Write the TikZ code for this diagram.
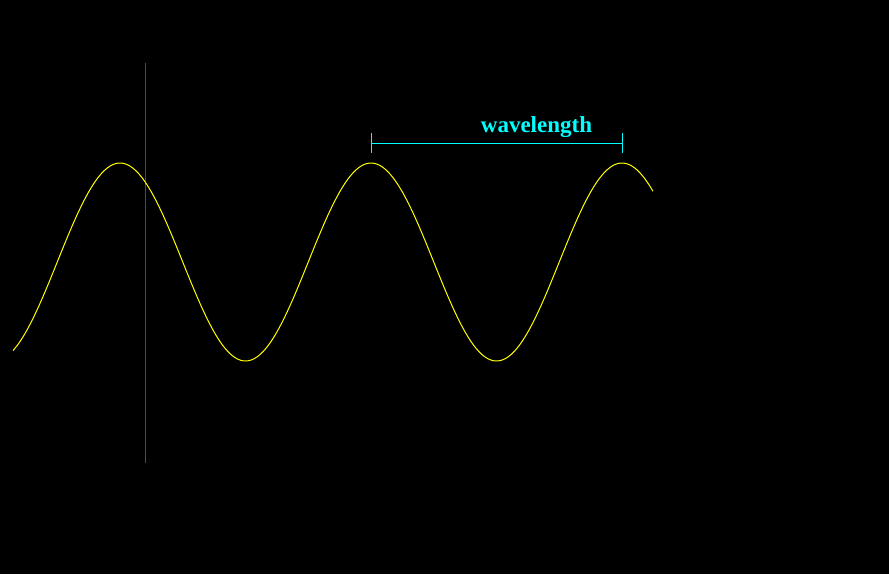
\documentclass[tikz,border=0pt]{standalone}
\usepackage{fontspec}
\setmainfont{Liberation Serif}
\usetikzlibrary{positioning}
\definecolor{wavecol}{RGB}{255,255,0}
\definecolor{markcol}{RGB}{255,0,0}
\definecolor{spancol}{RGB}{0,255,255}

\begin{document}
\begin{tikzpicture}[x=1pt,y=-1pt,line width=1pt]
	\tikzset{
		wave/.style={wavecol},
		marker/.style={markcol},
		span/.style={spancol},
		spantext/.style={text=spancol,font=\bfseries\fontsize{23}{23}\selectfont,inner sep=0pt}
	}
	%% background
	\fill[black] (0,0) rectangle (889,574);
	\useasboundingbox (0,0) rectangle (889,574);
	%% marker line
	\coordinate (m1) at (145,63);
	\coordinate (m2) at (145,463);
	\draw[marker] (m1) -- (m2);
	%% the wave
	\draw[wave,domain=13:653,samples=240,smooth] plot (\x,{262-99*cos(1.434263*(\x-120))});
	%% wavelength bracket
	\coordinate (c1) at (371,143);
	\coordinate (c2) at (622,143);
	\coordinate[above=10pt of c1] (c1t);
	\coordinate[below=10pt of c1] (c1b);
	\coordinate[above=10pt of c2] (c2t);
	\coordinate[below=10pt of c2] (c2b);
	\draw[span] (c1) -- (c2);
	\draw[span] (c1t) -- (c1b);
	\draw[span] (c2t) -- (c2b);
	\node[spantext,anchor=base] (wl) at (536.5,132) {wavelength};
\end{tikzpicture}
\end{document}
